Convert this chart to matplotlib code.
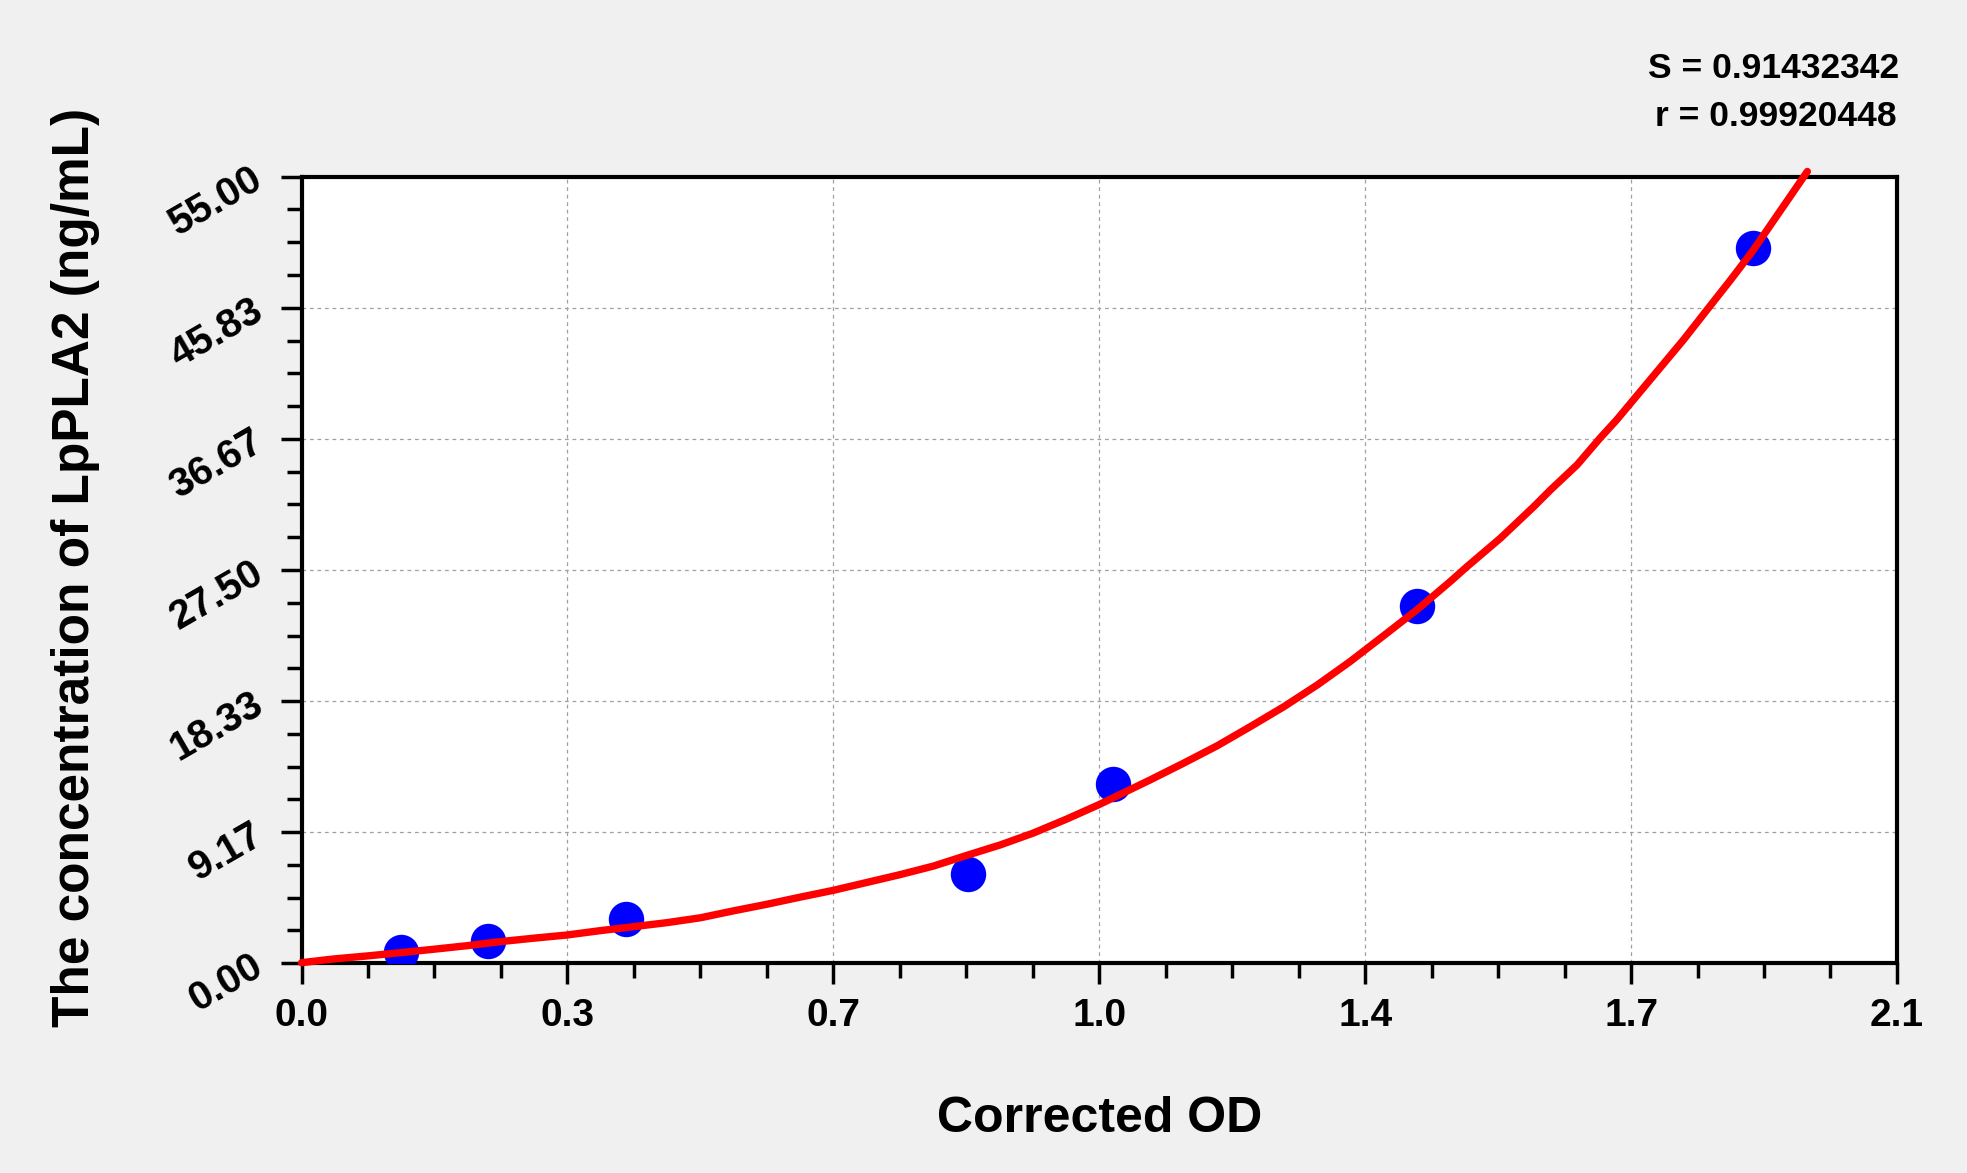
import matplotlib
matplotlib.use("Agg")
import matplotlib.pyplot as plt
from matplotlib.ticker import FixedLocator, AutoMinorLocator

plt.rcParams['font.family'] = ['Liberation Sans', 'DejaVu Sans']
plt.rcParams['font.weight'] = 'bold'

# ---- data ----
od_points = [0.131, 0.245, 0.427, 0.877, 1.068, 1.468, 1.910]
conc_points = [0.78, 1.56, 3.13, 6.25, 12.5, 25.0, 50.0]

# fitted standard curve
curve_od = [0.0, 0.042, 0.086, 0.130, 0.174, 0.218, 0.261, 0.305, 0.350, 0.393,
            0.437, 0.481, 0.525, 0.569, 0.612, 0.656, 0.700, 0.744, 0.788, 0.832,
            0.876, 0.920, 0.963, 1.007, 1.050, 1.117, 1.161, 1.205, 1.249, 1.293,
            1.337, 1.380, 1.424, 1.468, 1.512, 1.534, 1.578, 1.622, 1.644, 1.679,
            1.709, 1.731, 1.753, 1.797, 1.819, 1.850, 1.881, 1.910, 1.982]
curve_conc = [0.04, 0.30, 0.51, 0.74, 0.98, 1.23, 1.51, 1.75, 1.98, 2.28,
              2.56, 2.84, 3.18, 3.67, 4.12, 4.62, 5.10, 5.65, 6.20, 6.80,
              7.55, 8.28, 9.10, 10.08, 11.10, 12.82, 13.99, 15.20, 16.55, 17.94,
              19.46, 21.09, 22.89, 24.71, 26.69, 27.73, 29.72, 31.93, 33.10, 34.85,
              36.71, 37.99, 39.39, 42.19, 43.59, 45.69, 47.78, 49.80, 55.36]

x_ticks = [0.0, 0.35, 0.70, 1.05, 1.40, 1.75, 2.10]
x_tick_labels = ["0.0", "0.3", "0.7", "1.0", "1.4", "1.7", "2.1"]
y_ticks = [0.0, 9.1667, 18.3333, 27.5, 36.6667, 45.8333, 55.0]
y_tick_labels = ["0.00", "9.17", "18.33", "27.50", "36.67", "45.83", "55.00"]

stat_lines = ["S = 0.91432342", "r = 0.99920448"]
x_label = "Corrected OD"
y_label = "The concentration of LpPLA2 (ng/mL)"

# ---- figure ----
fig = plt.figure(figsize=(19.67, 11.73), dpi=100, facecolor='#f0f0f0')
ax = fig.add_axes([0.1533, 0.1788, 0.9644 - 0.1533, 0.8494 - 0.1788])
ax.set_facecolor('white')

ax.set_xlim(0, 2.1)
ax.set_ylim(0, 55)

ax.grid(True, which='major', color='#a0a0a0', linestyle=(0, (3, 3)), linewidth=0.9)
ax.set_axisbelow(True)

ax.plot(od_points, conc_points, 'o', color='#0000ff', markersize=25.5,
        markeredgewidth=0, zorder=3)
ax.plot(curve_od, curve_conc, '-', color='#ff0000', linewidth=5.3,
        solid_capstyle='round', solid_joinstyle='round', clip_on=False, zorder=4)

ax.xaxis.set_major_locator(FixedLocator(x_ticks))
ax.yaxis.set_major_locator(FixedLocator(y_ticks))
ax.xaxis.set_minor_locator(AutoMinorLocator(4))
ax.yaxis.set_minor_locator(AutoMinorLocator(4))
ax.set_xticklabels(x_tick_labels, fontsize=28, fontweight='bold')
ax.set_yticklabels(y_tick_labels, fontsize=29, fontweight='bold')

for sp in ax.spines.values():
    sp.set_linewidth(3.0)
    sp.set_color('black')

ax.tick_params(which='major', direction='out', length=15, width=2.5, color='black')
ax.tick_params(which='minor', direction='out', length=10.5, width=2.5, color='black')
ax.tick_params(axis='x', which='major', pad=10)
ax.tick_params(axis='y', which='major', pad=15)

for lab in ax.get_yticklabels():
    lab.set_rotation(30)
    lab.set_rotation_mode('anchor')
    lab.set_ha('right')
    lab.set_va('center')

ax_cx = (0.1533 + 0.9644) / 2
fig.text(ax_cx, 0.0352, x_label, fontsize=36, fontweight='bold',
         ha='center', va='baseline')
fig.text(0.0454, 0.5161, y_label, fontsize=37, fontweight='bold',
         rotation=90, rotation_mode='anchor', ha='center', va='baseline')

fig.text(0.9655, 0.9332, stat_lines[0], fontsize=25.5, fontweight='bold',
         ha='right', va='baseline')
fig.text(0.9642, 0.8926, stat_lines[1], fontsize=25.5, fontweight='bold',
         ha='right', va='baseline')

fig.savefig('out.png', dpi=100, facecolor=fig.get_facecolor())
